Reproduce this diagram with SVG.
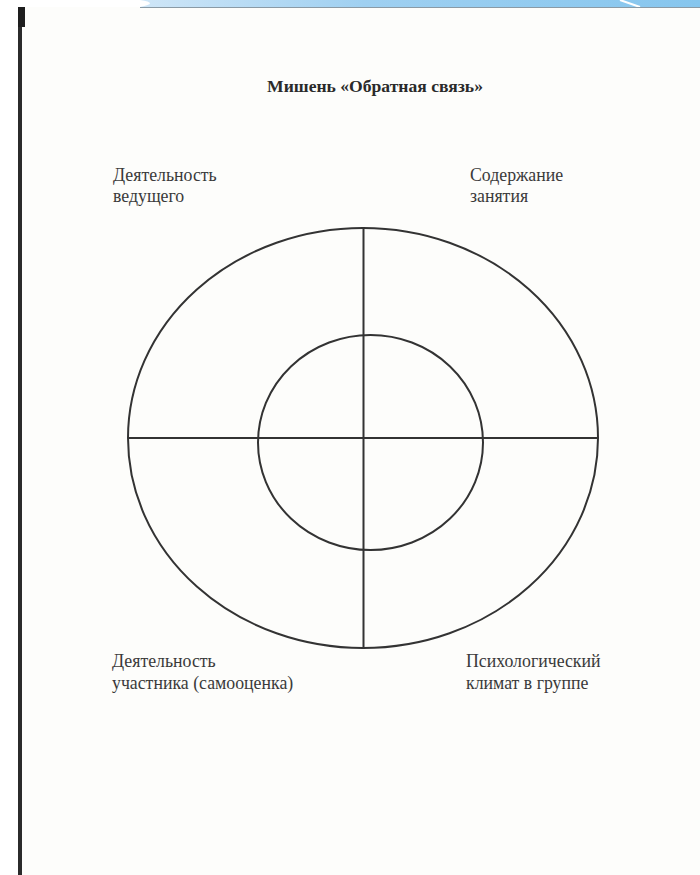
<svg xmlns="http://www.w3.org/2000/svg" width="700" height="875" viewBox="0 0 700 875">
<defs>
<linearGradient id="blue" x1="0" y1="0" x2="1" y2="0">
<stop offset="0" stop-color="#cfe6f7"/>
<stop offset="0.4" stop-color="#9fd0f1"/>
<stop offset="1" stop-color="#86c6ee"/>
</linearGradient>
</defs>
<style>
.shape{fill:none;stroke:#333;stroke-width:2}
.lbl{font-family:"Liberation Serif","Times New Roman",serif;font-size:17.8px;fill:#3a3a3a}
.title{font-family:"Liberation Serif","Times New Roman",serif;font-size:17.6px;font-weight:bold;fill:#2a2a2a}
</style>
<rect x="0" y="0" width="700" height="875" fill="#ffffff"/>
<rect x="20" y="7" width="680" height="868" fill="#fdfdfb"/>
<path d="M140,0 L700,0 L700,7 L140,7 Q160,3 140,0 Z" fill="url(#blue)"/>
<path d="M620,0 L640,7" stroke="#ffffff" stroke-width="2" fill="none"/>
<line x1="140" y1="7.5" x2="700" y2="7.5" stroke="#8a9aa5" stroke-width="1"/>
<rect x="18" y="7" width="4" height="868" fill="#2b2b2b"/>
<rect x="18" y="7" width="7" height="20" fill="#1e1e1e"/>
<g id="title"><text class="title" x="375" y="92" text-anchor="middle">Мишень «Обратная связь»</text></g>
<g id="target">
<ellipse class="shape" cx="363" cy="438" rx="235" ry="210"/>
<ellipse class="shape" cx="370.5" cy="442.5" rx="112.5" ry="107.5"/>
</g>
<g id="connectors">
<line class="shape" x1="128" y1="438" x2="598" y2="438"/>
<line class="shape" x1="363.5" y1="228" x2="363.5" y2="648"/>
</g>
<g id="label-tl"><text class="lbl" x="113" y="181">Деятельность</text><text class="lbl" x="113" y="202">ведущего</text></g>
<g id="label-tr"><text class="lbl" x="470" y="181">Содержание</text><text class="lbl" x="470" y="202">занятия</text></g>
<g id="label-bl"><text class="lbl" x="112" y="667">Деятельность</text><text class="lbl" x="112" y="689">участника (самооценка)</text></g>
<g id="label-br"><text class="lbl" x="466" y="667">Психологический</text><text class="lbl" x="466" y="689">климат в группе</text></g>
</svg>
